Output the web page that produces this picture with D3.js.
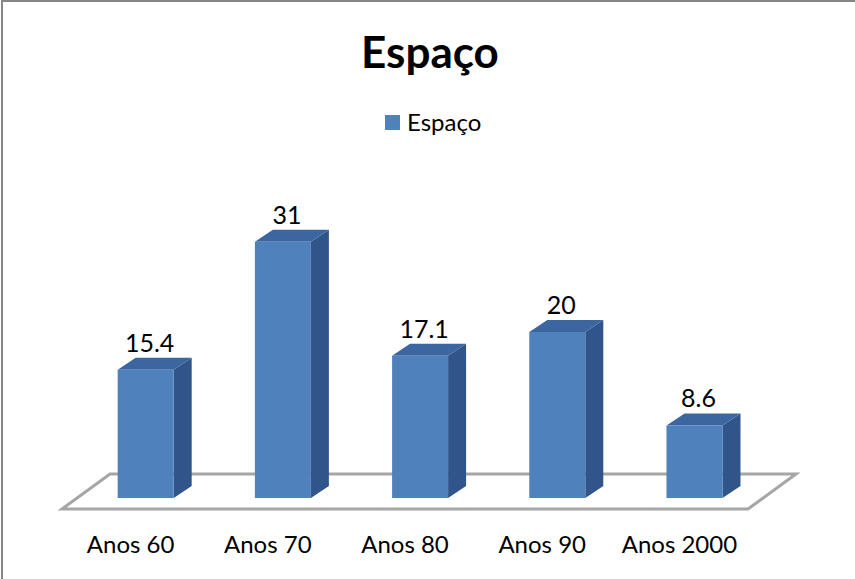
<!DOCTYPE html>
<html>
<head>
<meta charset="utf-8">
<script src="https://cdn.jsdelivr.net/npm/d3@7"></script>
<style>
  body { margin: 0; background: #fff; }
  svg { display: block; font-family: Lato, "Open Sans", sans-serif; }
</style>
</head>
<body>
<div id="chart"></div>
<script>
// data
const categories = ["Anos 60", "Anos 70", "Anos 80", "Anos 90", "Anos 2000"];
const values = [15.4, 31, 17.1, 20, 8.6];
const labels = ["15.4", "31", "17.1", "20", "8.6"];
const seriesName = "Espaço";

const width = 855, height = 579;

// floor of the 3d plot (front edge and depth offset)
const floorFront = 509, floorLeft = 62, floorRight = 748;
const floorDx = 48, floorDy = -35;
const depthDx = 18, depthDy = -12; // bar depth
const inset = 11; // bar front sits this far behind the floor front

const svg = d3.select("#chart").append("svg")
  .attr("width", width).attr("height", height);

// outer frame (only top/left visible in the picture)
svg.append("rect")
  .attr("x", 2).attr("y", 1)
  .attr("width", width + 10).attr("height", height + 10)
  .attr("fill", "none").attr("stroke", "#868686").attr("stroke-width", 2);

const x = d3.scaleBand().domain(categories).range([floorLeft, floorRight]).paddingInner(0);
const barBase = floorFront - inset;
const y = d3.scaleLinear().domain([0, 35]).range([barBase - 2, barBase - 2 - 8.2 * 35]);

// floor
svg.append("path")
  .attr("d", d3.line()([
    [floorLeft, floorFront],
    [floorLeft + floorDx, floorFront + floorDy],
    [floorRight + floorDx, floorFront + floorDy],
    [floorRight, floorFront]
  ]) + "Z")
  .attr("fill", "none").attr("stroke", "#a6a6a6").attr("stroke-width", 3)
  .attr("stroke-linejoin", "miter");

const barW = 56;
const shift = inset * floorDx / -floorDy;
const bx = d => x(d.cat) + x.bandwidth() / 2 + shift - barW / 2;

const data = categories.map((c, i) => ({ cat: c, v: values[i], label: labels[i] }));

const bars = svg.selectAll(".bar").data(data).enter().append("g").attr("class", "bar");

// side face
bars.append("path")
  .attr("d", d => {
    const x1 = bx(d) + barW, t = y(d.v), b = barBase;
    return d3.line()([[x1, t], [x1 + depthDx, t + depthDy], [x1 + depthDx, b + depthDy], [x1, b]]) + "Z";
  })
  .attr("fill", "#30558a");

// top face
bars.append("path")
  .attr("d", d => {
    const x0 = bx(d), t = y(d.v);
    return d3.line()([[x0, t], [x0 + depthDx, t + depthDy], [x0 + barW + depthDx, t + depthDy], [x0 + barW, t]]) + "Z";
  })
  .attr("fill", "#3b66a0");

// front face
bars.append("rect")
  .attr("x", d => bx(d))
  .attr("y", d => y(d.v))
  .attr("width", barW)
  .attr("height", d => barBase - y(d.v))
  .attr("fill", "#4f81bd");

// value labels
bars.append("text")
  .attr("x", d => bx(d) + barW / 2 + 4)
  .attr("y", d => y(d.v) - 18)
  .attr("text-anchor", "middle")
  .attr("font-size", 25)
  .attr("fill", "#000")
  .text(d => d.label);

// category labels
svg.selectAll(".cat").data(categories).enter().append("text")
  .attr("x", d => x(d) + x.bandwidth() / 2)
  .attr("y", 553)
  .attr("text-anchor", "middle")
  .attr("font-size", 24)
  .attr("fill", "#000")
  .text(d => d);

// title
svg.append("text")
  .attr("x", 430).attr("y", 68)
  .attr("text-anchor", "middle")
  .attr("font-size", 44).attr("font-weight", "bold")
  .text(seriesName);

// legend
svg.append("rect").attr("x", 385).attr("y", 115).attr("width", 15).attr("height", 15).attr("fill", "#4f81bd");
svg.append("text").attr("x", 407).attr("y", 131).attr("font-size", 24).text(seriesName);
</script>
</body>
</html>
